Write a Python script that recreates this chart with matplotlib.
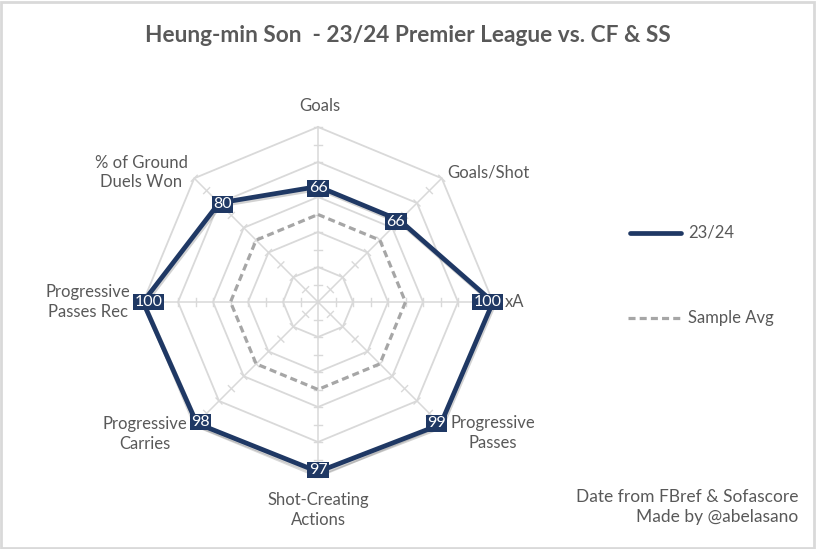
import numpy as np
import matplotlib.pyplot as plt
import matplotlib.patheffects as pe

categories = ['Goals', 'Goals/Shot', 'xA', 'Progressive\nPasses', 'Shot-Creating\nActions',
              'Progressive\nCarries', 'Progressive\nPasses Rec', '% of Ground\nDuels Won']
son = [66, 66, 100, 99, 97, 98, 100, 80]
sample_avg = [50, 50, 50, 50, 50, 50, 50, 50]
series_names = ['23/24', 'Sample Avg']
title = 'Heung-min Son  - 23/24 Premier League vs. CF & SS'
footer = 'Date from FBref & Sofascore\nMade by @abelasano'

navy = '#1f3864'
grey_txt = '#595959'
grid_c = '#d9d9d9'
avg_c = '#a6a6a6'
font = 'Lato'

# where the category labels sit (value units, centre = 0,0) and how they align
label_pos = [(1, 112, 'center'), (74, 74, 'left'), (107, 0, 'left'), (100, -75, 'center'),
             (0, -119, 'center'), (-99, -75.5, 'center'), (-131.5, 0, 'center'), (-101, 74, 'center')]

n = len(categories)
ang = np.pi / 2 - np.arange(n) * 2 * np.pi / n


def xy(vals):
    v = np.asarray(vals, dtype=float)
    x = v * np.cos(ang)
    y = v * np.sin(ang)
    return np.append(x, x[0]), np.append(y, y[0])


fig = plt.figure(figsize=(8.16, 5.49), dpi=100)
# 1 value unit = 1.75 px, centre at (318, 302) px from top-left
half = 200 / 1.75
ax = fig.add_axes([(318 - 200) / 816, (549 - 302 - 200) / 549, 400 / 816, 400 / 549])
ax.set_xlim(-half, half)
ax.set_ylim(-half, half)
ax.axis('off')

# grid rings
for r in range(20, 101, 20):
    gx, gy = xy([r] * n)
    ax.plot(gx, gy, color=grid_c, lw=1.3, zorder=1)
# spokes + tick marks
for a in ang:
    ax.plot([0, 100 * np.cos(a)], [0, 100 * np.sin(a)], color=grid_c, lw=1.1, zorder=1)
    px, py = -np.sin(a), np.cos(a)
    for r in range(10, 101, 10):
        cx, cy = r * np.cos(a), r * np.sin(a)
        ax.plot([cx - 2.4 * px, cx + 2.4 * px], [cy - 2.4 * py, cy + 2.4 * py],
                color=grid_c, lw=1.0, zorder=1)

# sample average
ax_, ay_ = xy(sample_avg)
ax.plot(ax_, ay_, color=avg_c, lw=2.3, ls=(0, (2.2, 1.3)), zorder=3)

# player line
sx, sy = xy(son)
ax.plot(sx, sy, color=navy, lw=3.4, zorder=4, solid_joinstyle='miter',
        path_effects=[pe.SimpleLineShadow(offset=(0.8, -1.5), shadow_color='#808080', alpha=0.35),
                      pe.Normal()])

# value boxes, nudged a little towards the centre like Excel does
for xv, yv, a, v in zip(sx[:-1], sy[:-1], ang, son):
    ax.text(xv - 3 * np.cos(a), yv - 1 * np.sin(a), str(v), color='white', fontsize=11.5,
            family=font, ha='center', va='center', zorder=6,
            bbox=dict(boxstyle='square,pad=0.08', fc=navy, ec='none'))

for lab, (lx, ly, ha) in zip(categories, label_pos):
    ax.text(lx, ly, lab, color=grey_txt, fontsize=12, family=font, ha=ha, va='center',
            multialignment='center', linespacing=1.3)

# title
fig.text(408 / 816, 1 - 36 / 549, title, color=grey_txt, fontsize=16.3, family=font,
         fontweight='bold', ha='center', va='center')

# legend
for i, (name, yy) in enumerate(zip(series_names, [233, 318])):
    yf = 1 - yy / 549
    if i == 0:
        fig.add_artist(plt.Line2D([630 / 816, 681 / 816], [yf, yf], color=navy, lw=3.4,
                                  solid_capstyle='round'))
    else:
        fig.add_artist(plt.Line2D([628 / 816, 682 / 816], [yf, yf], color=avg_c, lw=2.3,
                                  ls=(0, (2.2, 1.3))))
    fig.text(688 / 816, yf, name, color=grey_txt, fontsize=12, family=font, ha='left', va='center')

fig.text(798 / 816, 1 - 507 / 549, footer, color=grey_txt, fontsize=12.5, family=font,
         ha='right', va='center', linespacing=1.3, multialignment='right')

# chart border
fig.add_artist(plt.Rectangle((0.001, 0.002), 0.997, 0.995, transform=fig.transFigure,
                             fill=False, ec='#d9d9d9', lw=2))

fig.savefig('out.png', dpi=100)
